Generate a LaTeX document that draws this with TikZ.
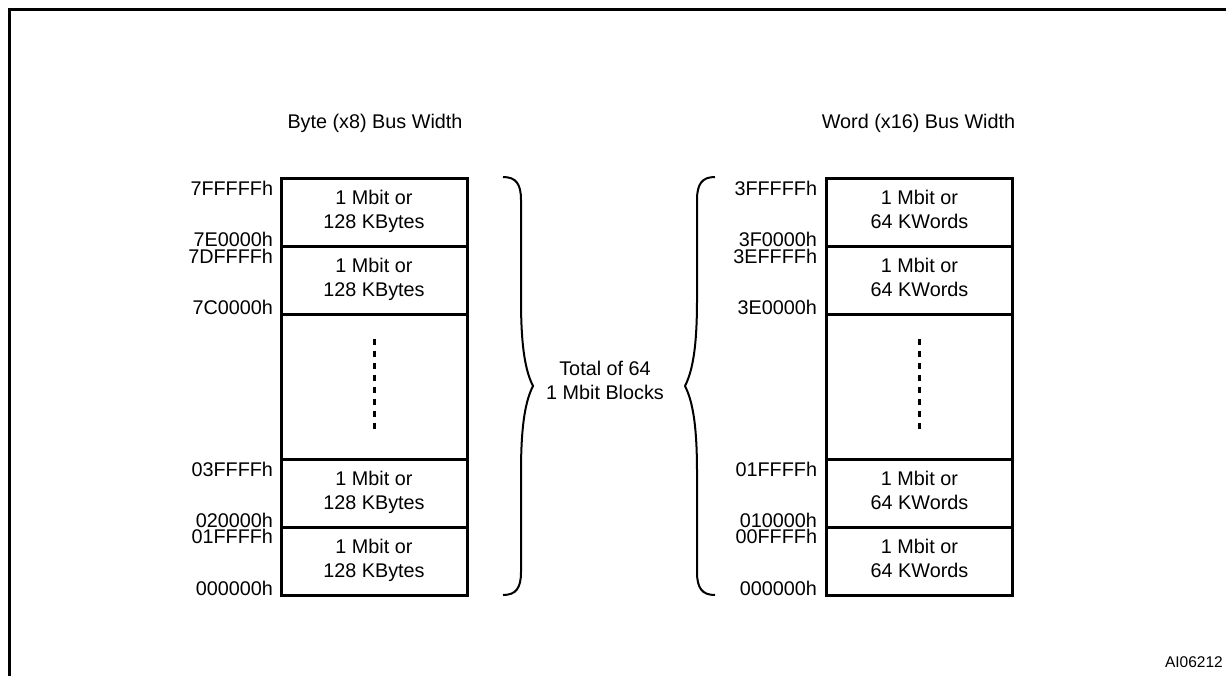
\documentclass[tikz,border=0pt]{standalone}
\usepackage{fontspec}
\setmainfont{Liberation Sans}
\usetikzlibrary{calc}
\begin{document}
\begin{tikzpicture}[x=1pt,y=-1pt,
  txt/.style={font=\fontsize{19.8}{24}\selectfont, inner sep=0pt, outer sep=0pt},
  block/.style={draw, line width=3pt, minimum width=186pt, minimum height=68pt,
                align=center, txt, text depth=4.5pt},
  gapblock/.style={draw, line width=3pt, minimum width=186pt, minimum height=145pt, inner sep=0pt},
  addr/.style={txt, anchor=base east},
  title/.style={txt, anchor=base},
  dotsline/.style={line width=3pt, dash pattern=on 6pt off 6pt},
  bracestyle/.style={line width=2pt},
  framestyle/.style={line width=3pt}]
\useasboundingbox (0,0) rectangle (1226,675);
\begin{scope}
  \clip (0,0) rectangle (1226,675);
  \draw[framestyle] (1235,9) -- (9,9) -- (9,690);
\end{scope}

% titles
\node[title] (tL) at (375,128) {Byte (x8) Bus Width};
\node[title] (tR) at (918.5,128) {Word (x16) Bus Width};

% left column
\node[block] (L1) at (374,212) {1 Mbit or\\128 KBytes};
\node[block] (L2) at (374,280) {1 Mbit or\\128 KBytes};
\node[gapblock] (L3) at (374,386.5) {};
\node[block] (L4) at (374,493) {1 Mbit or\\128 KBytes};
\node[block] (L5) at (374,561) {1 Mbit or\\128 KBytes};
\coordinate (L3a) at ($(L3.north)+(0,26)$);
\coordinate (L3b) at ($(L3.south)+(0,-29)$);
\draw[dotsline] (L3a) -- (L3b);

% right column
\node[block] (R1) at (919.5,212) {1 Mbit or\\64 KWords};
\node[block] (R2) at (919.5,280) {1 Mbit or\\64 KWords};
\node[gapblock] (R3) at (919.5,386.5) {};
\node[block] (R4) at (919.5,493) {1 Mbit or\\64 KWords};
\node[block] (R5) at (919.5,561) {1 Mbit or\\64 KWords};
\coordinate (R3a) at ($(R3.north)+(0,26)$);
\coordinate (R3b) at ($(R3.south)+(0,-29)$);
\draw[dotsline] (R3a) -- (R3b);

% left addresses
\node[addr] (a1) at (273,195) {7FFFFFh};
\node[addr] (a2) at (273,246) {7E0000h};
\node[addr] (a3) at (273,263) {7DFFFFh};
\node[addr] (a4) at (273,314) {7C0000h};
\node[addr] (a5) at (273,476) {03FFFFh};
\node[addr] (a6) at (273,527) {020000h};
\node[addr] (a7) at (273,543) {01FFFFh};
\node[addr] (a8) at (273,595) {000000h};

% right addresses
\node[addr] (b1) at (817,195) {3FFFFFh};
\node[addr] (b2) at (817,246) {3F0000h};
\node[addr] (b3) at (817,263) {3EFFFFh};
\node[addr] (b4) at (817,314) {3E0000h};
\node[addr] (b5) at (817,476) {01FFFFh};
\node[addr] (b6) at (817,527) {010000h};
\node[addr] (b7) at (817,543) {00FFFFh};
\node[addr] (b8) at (817,595) {000000h};

% braces
\draw[bracestyle] (503,177) .. controls (516,177) and (521,184) .. (521,200)
  -- (521,300) .. controls (521,350) and (526,372) .. (533,386)
  .. controls (526,400) and (521,422) .. (521,472)
  -- (521,572) .. controls (521,588) and (516,595) .. (503,595);
\draw[bracestyle] (715,177) .. controls (702,177) and (697,184) .. (697,200)
  -- (697,300) .. controls (697,350) and (692,372) .. (685,386)
  .. controls (692,400) and (697,422) .. (697,472)
  -- (697,572) .. controls (697,588) and (702,595) .. (715,595);

\node[txt, align=center] (total) at (605,380) {Total of 64\\1 Mbit Blocks};

\node[anchor=base east, inner sep=0pt, font=\fontsize{15.5}{18}\selectfont] (ref) at (1223,667) {AI06212};
\end{tikzpicture}
\end{document}
